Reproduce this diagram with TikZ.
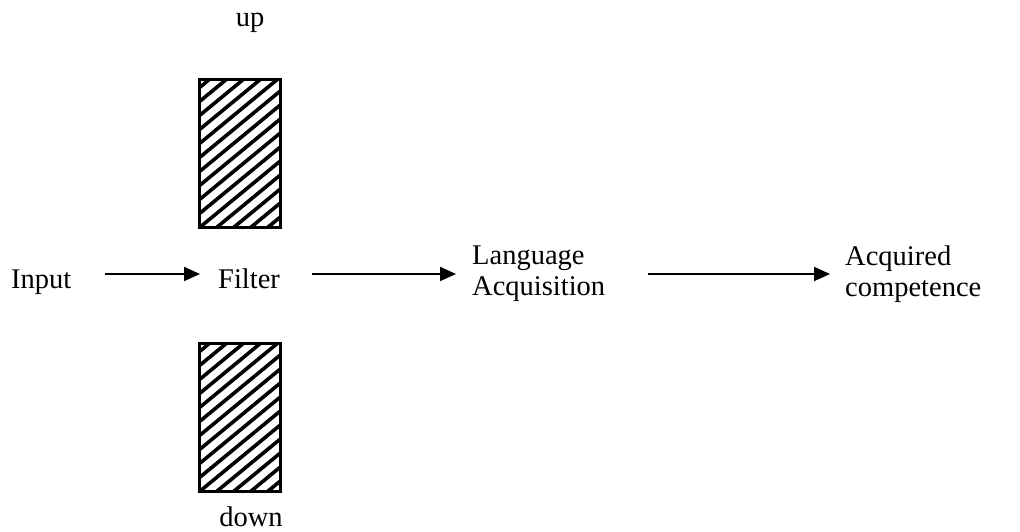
\documentclass[tikz,border=0pt]{standalone}
\usepackage{fontspec}
\setmainfont{Liberation Serif}
\usetikzlibrary{arrows.meta}
\begin{document}
\begin{tikzpicture}[x=1pt,y=1pt,
  lbl/.style={font=\fontsize{28.5}{31}\selectfont, inner sep=0pt, align=left},
  conn/.style={line width=1.8pt, -{Triangle[length=16pt,width=14pt]}},
  filterbox/.style={draw, line width=1.8pt, minimum width=80pt, minimum height=147pt, inner sep=0pt}]
\useasboundingbox (0,0) rectangle (1020,532);
% text nodes (image y -> 532 - y)
\node[lbl, anchor=base west] (in) at (11,243) {Input};
\node[lbl, anchor=base west] (filt) at (218,243) {Filter};
\node[lbl, anchor=west] (lang) at (472,258) {Language\\Acquisition};
\node[lbl, anchor=west] (acq) at (845,258) {Acquired\\competence};
\node[lbl, anchor=base] (up) at (250,505) {up};
\node[lbl, anchor=base] (down) at (251,5) {down};
% filter boxes
\node[filterbox] (topbox) at (240,378.5) {};
\node[filterbox] (botbox) at (240,114.5) {};
\foreach \b in {topbox,botbox}{
  \begin{scope}
    \clip (\b.south west) rectangle (\b.north east);
    \foreach \i in {-14,...,8}
      \draw[line width=3.6pt] ([xshift=\i*17pt]\b.south west) -- ++(220,181.2);
  \end{scope}
  \draw[line width=1.8pt] (\b.south west) rectangle (\b.north east);
}
% connectors
\draw[conn, shorten <=33pt, shorten >=18pt] (in.east |- lang.west) -- (filt.west |- lang.west);
\draw[conn, shorten <=32pt, shorten >=16pt] (filt.east |- lang.west) -- (lang.west);
\draw[conn, shorten <=43pt, shorten >=15pt] (lang.east) -- (acq.west);
\end{tikzpicture}
\end{document}
